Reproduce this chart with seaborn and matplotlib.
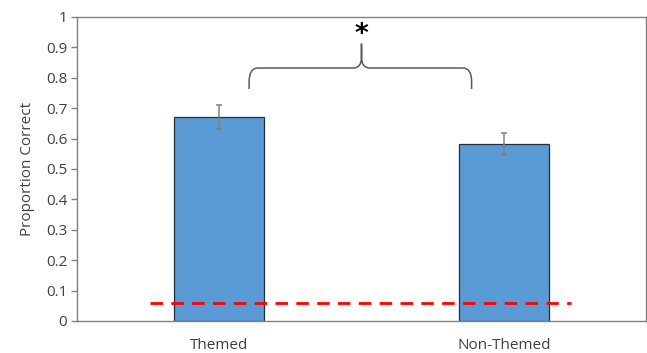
import pandas as pd
import matplotlib.pyplot as plt
import seaborn as sns
from matplotlib.path import Path
from matplotlib.patches import PathPatch

# values
conditions = ['Themed', 'Non-Themed']
proportion_correct = [0.671, 0.582]
error = [0.039, 0.037]
chance_level = 0.06
y_ticks = [0, 0.1, 0.2, 0.3, 0.4, 0.5, 0.6, 0.7, 0.8, 0.9, 1]
y_tick_labels = ['0', '0.1', '0.2', '0.3', '0.4', '0.5', '0.6', '0.7', '0.8', '0.9', '1']

df = pd.DataFrame({'condition': conditions, 'prop': proportion_correct})

sns.set_style('white')
plt.rcParams['font.family'] = ['Open Sans', 'DejaVu Sans']

fig = plt.figure(figsize=(6.47, 3.53), dpi=100)
ax = fig.add_axes([0.119, 0.0907, 0.8795, 0.8613])

sns.barplot(x='condition', y='prop', data=df, order=conditions, color='#5B9BD5',
            width=0.315, edgecolor='#1f2f40', linewidth=0.9, saturation=1, ax=ax)
ax.errorbar(range(len(conditions)), proportion_correct, yerr=error, fmt='none',
            ecolor='#808080', elinewidth=1.1, capsize=2.5, capthick=1.1)

# chance line
ax.plot([-0.245, 1.235], [chance_level, chance_level], color='#ff0000',
        linestyle=(0, (4.5, 3)), linewidth=2)

# brace over both bars
x0, x1, xm = 0.105, 0.887, 0.5
yb, yh, yt = 0.763, 0.832, 0.912
r = 0.03
verts = [(x0, yb), (x0, yh - 0.045), (x0, yh), (x0 + r, yh),
         (xm - r, yh), (xm, yh), (xm, yh + 0.035), (xm, yt),
         (xm, yh + 0.035), (xm, yh), (xm + r, yh),
         (x1 - r, yh), (x1, yh), (x1, yh - 0.045), (x1, yb)]
codes = [Path.MOVETO, Path.LINETO, Path.CURVE3, Path.CURVE3,
         Path.LINETO, Path.CURVE3, Path.CURVE3, Path.LINETO,
         Path.LINETO, Path.CURVE3, Path.CURVE3,
         Path.LINETO, Path.CURVE3, Path.CURVE3, Path.LINETO]
ax.add_patch(PathPatch(Path(verts, codes), facecolor='none', edgecolor='#595959', linewidth=1.1))
ax.text(xm, 0.942, '*', ha='center', va='center', fontsize=19, fontweight='bold',
        color='black', family=['DejaVu Sans'])

ax.set_xlim(-0.5, 1.5)
ax.set_ylim(0, 1)
ax.set_yticks(y_ticks)
ax.set_yticklabels(y_tick_labels)
ax.set_xticks([-0.5, 0.5, 1.5], minor=True)
ax.tick_params(axis='x', which='major', length=0, pad=12, labelsize=11, labelcolor='#404040')
ax.tick_params(axis='x', which='minor', length=5, color='#808080', direction='in', width=1)
ax.tick_params(axis='y', length=4, color='#808080', width=1, labelsize=11, labelcolor='#404040', pad=3)
ax.yaxis.set_ticks_position('left')
ax.set_xlabel('')
ax.set_ylabel('Proportion Correct', fontsize=11, color='#404040', labelpad=8)
for s in ax.spines.values():
    s.set_color('#808080')
    s.set_linewidth(1)

fig.savefig('out.png', dpi=100)
